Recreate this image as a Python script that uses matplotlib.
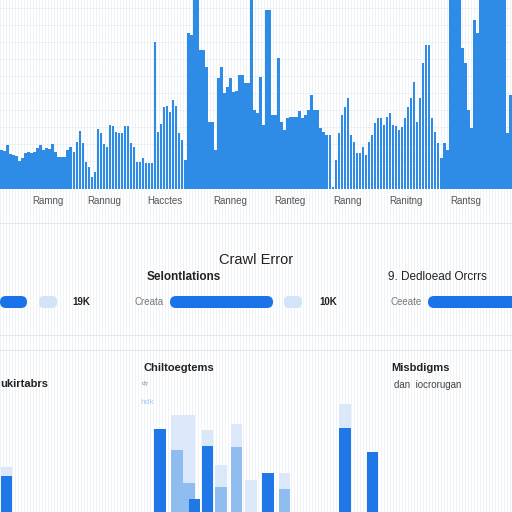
import matplotlib
matplotlib.use("Agg")
import matplotlib.pyplot as plt
from matplotlib.patches import FancyBboxPatch

plt.rcParams['font.family'] = ['Liberation Sans', 'DejaVu Sans']

# ---------------- data ----------------
top_values = [39, 38, 44, 35, 34, 33, 28, 31, 36, 37, 36, 37, 41, 44, 39, 41, 40, 45, 37, 32,
              32, 32, 39, 42, 37, 47, 58, 46, 27, 22, 12, 17, 60, 56, 45, 42, 64, 63, 57, 56,
              56, 63, 63, 46, 42, 27, 27, 31, 26, 26, 26, 147, 57, 65, 82, 83, 77, 89, 83, 56,
              49, 29, 156, 154, 200, 200, 139, 139, 122, 67, 67, 39, 111, 122, 96, 102, 111, 97, 98, 114,
              114, 106, 106, 200, 79, 76, 112, 64, 179, 179, 74, 74, 131, 67, 59, 71, 72, 72, 72, 78,
              71, 74, 79, 94, 79, 79, 61, 57, 54, 54, 2, 29, 56, 74, 82, 91, 54, 47, 36, 36,
              42, 34, 47, 54, 66, 71, 71, 64, 72, 76, 64, 63, 59, 62, 71, 82, 91, 107, 67, 91,
              126, 144, 144, 71, 57, 46, 31, 46, 39, 200, 200, 200, 200, 141, 126, 79, 61, 169, 156, 200,
              200, 200, 200, 200, 200, 200, 200, 200, 56, 94]
top_labels = ["Ramng", "Rannug", "Hacctes", "Ranneg", "Ranteg", "Ranng", "Ranitng", "Rantsg"]

section_title = "Crawl Error"
sub_titles = ["Selontlations", "9. Dedloead Orcrrs"]
progress_lengths = [27, 103, 90]
progress_values = ["19K", "10K"]
create_labels = ["Creata", "Ceeate"]

lower_titles = ["Chiltoegtems", "Misbdigms"]
lower_sub = ["ukirtabrs", "\u1d48\u2077", "dan  iocrorugan"]

bottom_slots = [1.3, 32.0, 35.4, 37.8, 38.9, 41.5, 44.2, 47.3, 50.2, 53.6, 56.9, 69.0, 74.5]
bottom_dark = [36, 83, 0, 0, 13, 66, 0, 0, 0, 39, 0, 84, 60]
bottom_mid = [0, 0, 62, 29, 0, 0, 25, 65, 0, 0, 23, 0, 0]
bottom_light = [45, 0, 97, 97, 0, 82, 47, 88, 32, 0, 39, 108, 0]

# ---------------- figure ----------------
W = H = 512
fig = plt.figure(figsize=(5.12, 5.12), dpi=100)
fig.patch.set_facecolor('white')


def px_axes(x, y, w, h, z=1):
    a = fig.add_axes([x / W, 1 - (y + h) / H, w / W, h / H], zorder=z)
    a.set_axis_off()
    a.patch.set_alpha(0)
    return a

# background faint vertical stripes
bg = px_axes(0, 0, W, H, z=0)
bg.set_xlim(0, W)
bg.set_ylim(H, 0)
for xs in range(0, W, 3):
    bg.axvline(xs, color='#eef1f5', lw=0.6)
for yl in [223, 335, 350]:
    bg.axhline(yl, color='#e4e8ee', lw=0.8)

# top bar chart
top = px_axes(0, 0, W, 189, z=2)
n = len(top_values)
for gy in range(8, 189, 17):
    top.axhline(189 - gy, color='#e2e6ec', lw=0.7, ls=(0, (1, 1)), zorder=0)
top.bar(range(n), top_values, width=0.85, color='#2e8ce7', zorder=2)
top.set_xlim(-0.5, n - 0.5)
top.set_ylim(0, 189)

# overlay for text / pills
ov = px_axes(0, 0, W, H, z=3)
ov.set_xlim(0, W)
ov.set_ylim(H, 0)

label_x = [48, 104, 165, 230, 290, 348, 406, 466]
for lx, t in zip(label_x, top_labels):
    ov.text(lx, 201, t, ha='center', va='center', fontsize=7, color='#555555')

ov.text(256, 260, section_title, ha='center', va='center', fontsize=10.5, color='#222222')
ov.text(184, 277, sub_titles[0], ha='center', va='center', fontsize=8.5, color='#222222', fontweight='bold')
ov.text(437, 277, sub_titles[1], ha='center', va='center', fontsize=8.5, color='#222222')

pill_starts = [0, 170, 428]
for sx, ln in zip(pill_starts, progress_lengths):
    ov.add_patch(FancyBboxPatch((sx, 296), ln, 12, boxstyle="round,pad=0,rounding_size=6",
                                fc='#1a73e8', ec='none'))
for sx in [39, 284]:
    ov.add_patch(FancyBboxPatch((sx, 296), 18, 12, boxstyle="round,pad=0,rounding_size=5",
                                fc='#d3e3f8', ec='none'))
for vx, t in zip([81, 328], progress_values):
    ov.text(vx, 302, t, ha='center', va='center', fontsize=7, color='#222222', fontweight='bold')
for cx, t in zip([149, 406], create_labels):
    ov.text(cx, 302, t, ha='center', va='center', fontsize=7, color='#777777')

ov.text(179, 368, lower_titles[0], ha='center', va='center', fontsize=8, color='#222222', fontweight='bold')
ov.text(420, 368, lower_titles[1], ha='center', va='center', fontsize=8, color='#222222', fontweight='bold')
ov.text(0, 384, lower_sub[0], ha='left', va='center', fontsize=8, color='#222222', fontweight='bold')
ov.text(142, 385, lower_sub[1], ha='left', va='center', fontsize=7, color='#888888')
ov.text(394, 385, lower_sub[2], ha='left', va='center', fontsize=7, color='#444444')
ov.text(140, 402, "hdk", ha='left', va='center', fontsize=6, color='#a9c8ef')

# bottom bars
bot = px_axes(0, 400, W, 112, z=2)
bot.bar(bottom_slots, bottom_light, width=2.3, color='#dbe8f9', zorder=1)
bot.bar(bottom_slots, bottom_mid, width=2.3, color='#8fbdf0', zorder=2)
bot.bar(bottom_slots, bottom_dark, width=2.3, color='#1f77e8', zorder=3)
bot.set_xlim(0, 102.4)
bot.set_ylim(0, 112)

fig.savefig('out.png', dpi=100, facecolor='white')
